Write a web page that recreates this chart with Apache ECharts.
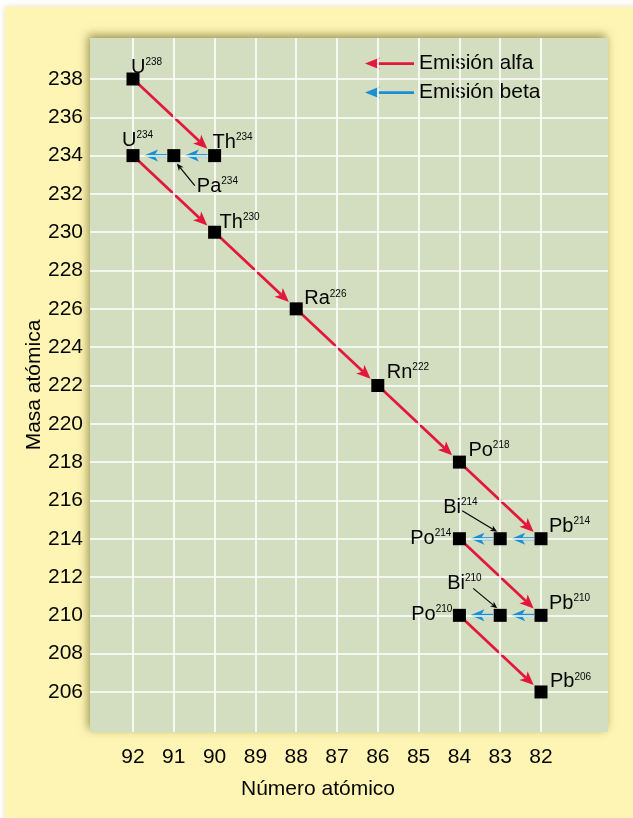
<!DOCTYPE html>
<html>
<head>
<meta charset="utf-8">
<title>Serie de desintegración del uranio-238</title>
<script src="https://cdn.jsdelivr.net/npm/echarts@6/dist/echarts.min.js"></script>
<style>
  html, body { margin: 0; padding: 0; background: #ffffff; }
  #chart { width: 633px; height: 818px; }
</style>
</head>
<body>
<div id="chart"></div>
<script>
// Nuclides of the U-238 decay chain (element symbol, atomic number Z, mass number A)
const elements      = ['U', 'Th', 'Pa', 'U', 'Th', 'Ra', 'Rn', 'Po', 'Pb', 'Bi', 'Po', 'Pb', 'Bi', 'Po', 'Pb'];
const atomicNumbers = [92, 90, 91, 92, 90, 88, 86, 84, 82, 83, 84, 82, 83, 84, 82];
const massNumbers   = [238, 234, 234, 234, 230, 226, 222, 218, 214, 214, 214, 210, 210, 210, 206];

// Decays as [parent index, daughter index]
const alphaDecays = [[0, 1], [3, 4], [4, 5], [5, 6], [6, 7], [7, 8], [10, 11], [13, 14]];
const betaDecays  = [[1, 2], [2, 3], [8, 9], [9, 10], [11, 12], [12, 13]];

// Tick labels
const xTicks = [92, 91, 90, 89, 88, 87, 86, 85, 84, 83, 82];
const yTicks = [206, 208, 210, 212, 214, 216, 218, 220, 222, 224, 226, 228, 230, 232, 234, 236, 238];

// Series names
const alphaName = 'Emisión alfa';
const betaName  = 'Emisión beta';

// Nuclides that carry a small pointer from their label to the marker
const pointerNuclides = [2, 9, 12];

// ---------- presentation ----------
const FONT = '"Liberation Sans", Arial, Helvetica, sans-serif';
const INK = '#050505';
const RED = '#E3173C';
const BLUE = '#1B8FD4';

// Label placement relative to marker centre (pixels)
const labelPlacement = {
  0:  { dx: -2,  dy: -12 },
  1:  { dx: -2,  dy: -13 },
  2:  { dx: 23,  dy: 31 },
  3:  { dx: -11, dy: -15 },
  4:  { dx: 5,   dy: -10 },
  5:  { dx: 8,   dy: -10 },
  6:  { dx: 9,   dy: -13 },
  7:  { dx: 9,   dy: -12 },
  8:  { dx: 8,   dy: -12 },
  9:  { dx: -57, dy: -31 },
  10: { dx: -8,  dy: 0,  align: 'right' },
  11: { dx: 8,   dy: -12 },
  12: { dx: -53, dy: -32 },
  13: { dx: -7,  dy: -1, align: 'right' },
  14: { dx: 9,   dy: -10 }
};

// Pointer geometry relative to marker centre (tail -> tip, pixels)
const pointerGeom = {
  2:  { tail: [21, 30],  tip: [3, 8] },
  9:  { tail: [-38, -28], tip: [-3, -7] },
  12: { tail: [-27, -27], tip: [-3, -7] }
};

function decayData(pairs) {
  return pairs.map(([a, b]) => [atomicNumbers[a], massNumbers[a], atomicNumbers[b], massNumbers[b]]);
}

function arrowRenderer(color, startGap, tipGap, width) {
  return function (params, api) {
    const p1 = api.coord([api.value(0), api.value(1)]);
    const p2 = api.coord([api.value(2), api.value(3)]);
    const dx = p2[0] - p1[0], dy = p2[1] - p1[1];
    const len = Math.sqrt(dx * dx + dy * dy);
    const ux = dx / len, uy = dy / len;
    const nx = -uy, ny = ux;
    const headLen = 14, headHalf = 6, notch = 3.5;
    const s = [p1[0] + ux * startGap, p1[1] + uy * startGap];
    const t = [p2[0] - ux * tipGap, p2[1] - uy * tipGap];
    const b = [t[0] - ux * headLen, t[1] - uy * headLen];
    const m = [t[0] - ux * (headLen - notch), t[1] - uy * (headLen - notch)];
    return {
      type: 'group',
      children: [
        { type: 'line', shape: { x1: s[0], y1: s[1], x2: m[0], y2: m[1] },
          style: { stroke: color, lineWidth: width } },
        { type: 'polygon', shape: { points: [
            t,
            [b[0] + nx * headHalf, b[1] + ny * headHalf],
            m,
            [b[0] - nx * headHalf, b[1] - ny * headHalf]
          ] },
          style: { fill: color } }
      ]
    };
  };
}

const chart = echarts.init(document.getElementById('chart'), null, { renderer: 'canvas' });

const arrowIcon = 'path://M0,6 L15,0 L11.5,4.7 L49,4.7 L49,7.5 L11.5,7.5 L15,12 Z';

const option = {
  backgroundColor: '#ffffff',
  animation: false,
  textStyle: { fontFamily: FONT },
  graphic: [
    {
      type: 'rect', z: -10,
      shape: { x: 5, y: 7, width: 640, height: 820 },
      style: { fill: '#FEF5B4', shadowColor: 'rgba(200,190,120,0.5)', shadowBlur: 6 }
    }
  ],
  grid: {
    show: true,
    left: 90, right: 25, top: 38, bottom: 86,
    backgroundColor: '#D3DDC0',
    borderWidth: 0,
    shadowColor: 'rgba(90,80,20,0.6)',
    shadowBlur: 9,
    shadowOffsetX: -2,
    shadowOffsetY: -3
  },
  legend: {
    orient: 'vertical',
    left: 360, top: 48,
    itemWidth: 49, itemHeight: 12,
    itemGap: 8,
    textStyle: { fontSize: 21, color: INK, fontFamily: FONT },
    data: [
      { name: alphaName, icon: arrowIcon },
      { name: betaName,  icon: arrowIcon }
    ],
    selectedMode: false
  },
  xAxis: {
    type: 'value',
    inverse: true,
    min: 80.358, max: 93.054,
    name: 'Número atómico',
    nameLocation: 'middle',
    nameGap: 47,
    nameMoveOverlap: false,
    nameTextStyle: { fontSize: 21, color: INK, padding: [0, 62, 0, 0] },
    axisLine: { show: false },
    axisTick: { show: false },
    splitLine: { show: false },
    axisLabel: { customValues: xTicks, fontSize: 21, color: INK, margin: 15 }
  },
  yAxis: {
    type: 'value',
    min: 203.91, max: 240.14,
    name: 'Masa atómica',
    nameLocation: 'middle',
    nameGap: 45,
    nameMoveOverlap: false,
    nameTextStyle: { fontSize: 21, color: INK },
    axisLine: { show: false },
    axisTick: { show: false },
    splitLine: { show: false },
    axisLabel: { customValues: yTicks, fontSize: 21, color: INK, margin: 7 }
  },
  series: [
    {
      // white grid lines
      type: 'line', data: [], z: 1, silent: true,
      markLine: {
        silent: true, symbol: 'none', animation: false,
        label: { show: false },
        lineStyle: { color: '#ffffff', width: 1.6, type: 'solid', opacity: 1 },
        data: xTicks.map(v => ({ xAxis: v })).concat(yTicks.map(v => ({ yAxis: v })))
      }
    },
    {
      name: alphaName, type: 'custom', z: 3,
      itemStyle: { color: RED },
      encode: { x: [0, 2], y: [1, 3] },
      renderItem: arrowRenderer(RED, 6, 10, 2.7),
      data: decayData(alphaDecays)
    },
    {
      name: betaName, type: 'custom', z: 3,
      itemStyle: { color: BLUE },
      encode: { x: [0, 2], y: [1, 3] },
      renderItem: arrowRenderer(BLUE, 7, 11, 3),
      data: decayData(betaDecays)
    },
    {
      // label pointers
      type: 'custom', z: 3, silent: true,
      encode: { x: 0, y: 1 },
      renderItem: function (params, api) {
        const c = api.coord([api.value(0), api.value(1)]);
        const g = pointerGeom[api.value(2)];
        const t0 = [c[0] + g.tail[0], c[1] + g.tail[1]];
        const t1 = [c[0] + g.tip[0], c[1] + g.tip[1]];
        const dx = t1[0] - t0[0], dy = t1[1] - t0[1];
        const len = Math.sqrt(dx * dx + dy * dy);
        const ux = dx / len, uy = dy / len, nx = -uy, ny = ux;
        const hl = 7, hh = 3;
        const b = [t1[0] - ux * hl, t1[1] - uy * hl];
        return {
          type: 'group',
          children: [
            { type: 'line', shape: { x1: t0[0], y1: t0[1], x2: b[0] + ux * 2, y2: b[1] + uy * 2 },
              style: { stroke: INK, lineWidth: 1.2 } },
            { type: 'polygon', shape: { points: [t1, [b[0] + nx * hh, b[1] + ny * hh], [b[0] + ux * 2, b[1] + uy * 2], [b[0] - nx * hh, b[1] - ny * hh]] },
              style: { fill: INK } }
          ]
        };
      },
      data: pointerNuclides.map(i => [atomicNumbers[i], massNumbers[i], i])
    },
    {
      type: 'scatter', z: 5,
      symbol: 'rect', symbolSize: 13,
      itemStyle: { color: '#000000', opacity: 1 },
      data: elements.map((el, i) => {
        const p = labelPlacement[i];
        return {
          value: [atomicNumbers[i], massNumbers[i]],
          name: el + massNumbers[i],
          label: {
            show: true,
            position: 'inside',
            offset: [p.dx, p.dy],
            align: p.align || 'left',
            verticalAlign: 'middle',
            formatter: '{e|' + el + '}{m|' + massNumbers[i] + '}',
            rich: {
              e: { fontSize: 20, lineHeight: 20, color: INK, fontFamily: FONT },
              m: { fontSize: 10, lineHeight: 13, verticalAlign: 'top', color: INK, fontFamily: FONT }
            }
          }
        };
      })
    }
  ]
};

chart.setOption(option);
</script>
</body>
</html>
